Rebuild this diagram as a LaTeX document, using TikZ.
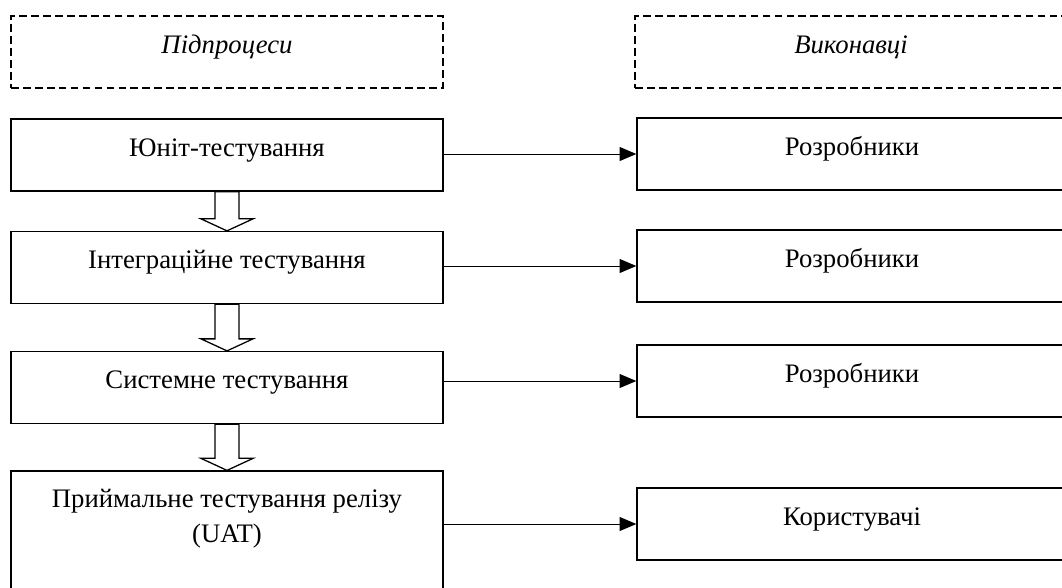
\documentclass[tikz,border=0pt]{standalone}
\usepackage{fontspec}
\setmainfont{Liberation Serif}
\usetikzlibrary{calc, arrows.meta}

\begin{document}
\begin{tikzpicture}[x=0.025cm, y=-0.025cm, line width=0.9pt,
  txt/.style={font=\fontsize{19}{25}\selectfont, text height=0.7em, text depth=0.55em},
  stage/.style={draw, txt, minimum width=10.8cm, minimum height=1.8cm, inner sep=0pt},
  actor/.style={draw, txt, minimum width=10.75cm, minimum height=1.8cm, inner sep=0pt},
  title/.style={stage, dash pattern=on 5.5pt off 3pt, font=\fontsize{19}{25}\selectfont\itshape}]
\useasboundingbox (0,0) rectangle (1062,587);

\node[title] (tl) at (227,52) {Підпроцеси};
\node[title, minimum width=10.8cm] (tr) at (851,52) {Виконавці};

\node[stage] (l1) at (227,155) {Юніт-тестування};
\node[stage] (l2) at (227,267.5) {Інтеграційне тестування};
\node[stage] (l3) at (227,387.5) {Системне тестування};
\node[draw, inner sep=0pt, font=\fontsize{19}{25}\selectfont] (l4) at (227,536)
  {\parbox[c][3.25cm][t]{10.8cm}{\centering\vspace*{0.45cm}Приймальне тестування релізу\\(UAT)}};

\node[actor] (r1) at (852,154) {Розробники};
\node[actor] (r2) at (852,266) {Розробники};
\node[actor] (r3) at (852,381) {Розробники};
\node[actor] (r4) at (852,524) {Користувачі};

% hollow arrows between stages
\foreach \a/\b in {l1/l2, l2/l3, l3/l4}
  \draw ($(\a.south)+(-12,0)$) -- ($(\b.north)+(-12,-12)$) -- ($(\b.north)+(-26,-12)$)
    -- (\b.north) -- ($(\b.north)+(26,-12)$) -- ($(\b.north)+(12,-12)$) -- ($(\a.south)+(12,0)$) -- cycle;

\foreach \i in {1,...,4}
  \draw[-{Triangle[length=0.42cm,width=0.35cm]}, line width=0.7pt] (l\i.east |- r\i.west) -- (r\i.west);
\end{tikzpicture}
\end{document}
